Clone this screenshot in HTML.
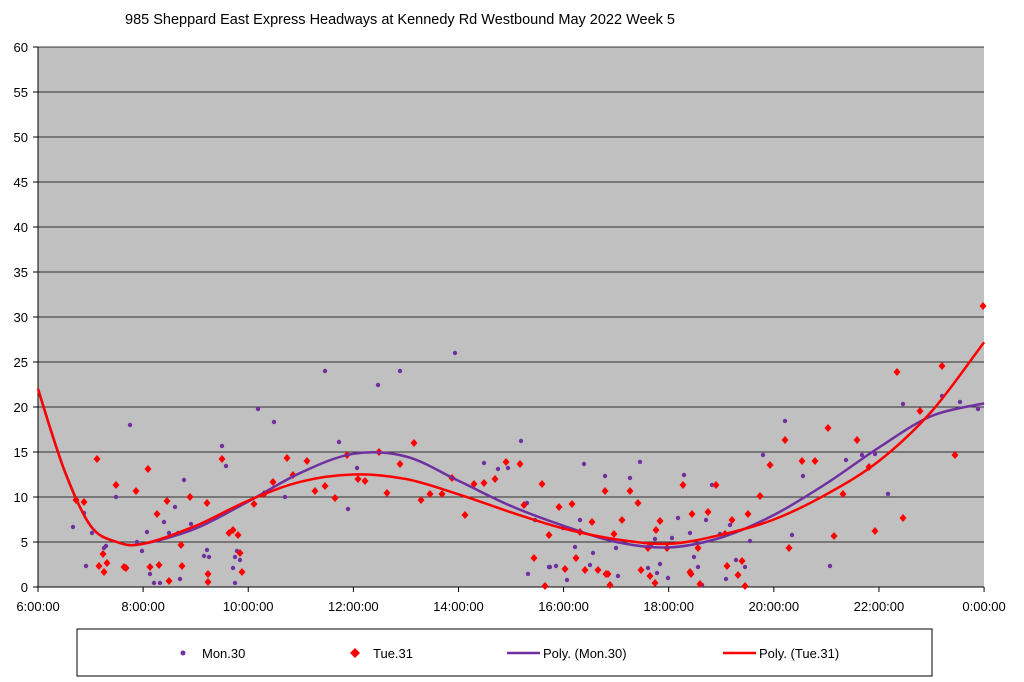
<!DOCTYPE html>
<html><head><meta charset="utf-8"><style>
body{margin:0;background:#fff;}
svg{display:block;font-family:"Liberation Sans",Arial,sans-serif;}
</style></head><body>
<svg id="s" width="1024" height="682" viewBox="0 0 1024 682">
<rect x="0" y="0" width="1024" height="682" fill="#fff"/>
<text x="125" y="24" font-size="14.5" fill="#000">985 Sheppard East Express Headways at Kennedy Rd Westbound May 2022  Week 5</text>
<rect x="38" y="47" width="946" height="540" fill="#c0c0c0"/>
<g id="grid"></g>
<g id="pts"></g>
<g id="curves"></g>
<rect x="77" y="629" width="855" height="47" fill="#fff" stroke="#000" stroke-width="1"/>
<circle cx="183" cy="653" r="2.5" fill="#7030a0"/>
<text x="202" y="658" font-size="13">Mon.30</text>
<path d="M355 648 L360 653 L355 658 L350 653Z" fill="#ff0000"/>
<text x="373" y="658" font-size="13">Tue.31</text>
<line x1="507" y1="653" x2="540" y2="653" stroke="#7030a0" stroke-width="2.5"/>
<text x="543" y="658" font-size="13">Poly. (Mon.30)</text>
<line x1="723" y1="653" x2="756" y2="653" stroke="#ff0000" stroke-width="2.5"/>
<text x="759" y="658" font-size="13">Poly. (Tue.31)</text>
</svg>
<script>
var NS="http://www.w3.org/2000/svg";
function el(p,t,a){var e=document.createElementNS(NS,t);for(var k in a)e.setAttribute(k,a[k]);document.getElementById(p).appendChild(e);return e;}
var X0=38,PH=52.56,Y0=587,PU=9;
for(var v=0;v<=60;v+=5){var y=Y0-v*PU;
 if(v>0)el("grid","line",{x1:38,x2:984,y1:y,y2:y,stroke:"#000","stroke-width":0.8});
 el("grid","line",{x1:33,x2:38,y1:y,y2:y,stroke:"#000"});
 var t=el("grid","text",{x:28,y:y+5,"font-size":13,"text-anchor":"end"});t.textContent=v;}
el("grid","line",{x1:38,x2:38,y1:47,y2:587,stroke:"#000"});
el("grid","line",{x1:38,x2:984,y1:587,y2:587,stroke:"#000"});
var labs=["6:00:00","8:00:00","10:00:00","12:00:00","14:00:00","16:00:00","18:00:00","20:00:00","22:00:00","0:00:00"];
for(var i=0;i<10;i++){var x=X0+i*2*PH;
 el("grid","line",{x1:x,x2:x,y1:587,y2:592,stroke:"#000"});
 var t=el("grid","text",{x:x,y:611,"font-size":13,"text-anchor":"middle"});t.textContent=labs[i];}
var P=[73,527,84,513,86,566,92,533,104,548,106,546,116,497,130,425,137,542,142,551,147,532,150,574,154,583,160,583,164,522,169,533,175,507,178,533,180,579,184,480,191,524,204,556,207,550,209,557,222,446,226,466,235,557,235,583,233,568,237,551,240,560,258,409,274,422,285,497,325,371,339,442,348,509,357,468,378,385,400,371,455,353,484,463,498,469,508,468,521,441,527,503,528,574,535,520,549,567,550,567,556,566,563,528,567,580,575,547,580,520,584,464,590,565,593,553,605,476,612,540,616,548,618,576,630,478,640,462,648,568,651,545,655,539,657,573,660,564,668,578,672,538,678,518,684,475,690,533,694,557,698,567,702,585,706,520,712,485,720,534,726,579,730,525,736,560,745,567,750,541,763,455,785,421,792,535,803,476,830,566,846,460,862,455,875,454,888,494,903,404,942,396,960,402,978,409];
for(var i=0;i<P.length;i+=2)el("pts","circle",{cx:P[i],cy:P[i+1],r:2.2,fill:"#7030a0"});
var R=[76,500,84,502,97,459,99,566,103,554,104,572,107,563,116,485,124,567,126,568,136,491,148,469,150,567,157,514,159,565,167,501,169,581,181,545,182,566,190,497,208,574,208,582,207,503,222,459,229,533,233,530,238,535,240,553,242,572,254,504,264,494,273,482,287,458,293,475,307,461,315,491,325,486,335,498,347,455,358,479,365,481,379,452,387,493,400,464,414,443,421,500,430,494,442,494,452,478,465,515,474,484,484,483,495,479,506,462,520,464,524,505,534,558,542,484,545,586,549,535,559,507,565,569,572,504,576,558,580,532,585,570,592,522,598,570,605,491,606,574,608,574,610,585,614,534,622,520,630,491,638,503,641,570,648,548,650,576,655,583,656,530,660,521,667,548,683,485,690,572,691,574,692,514,698,548,700,584,708,512,716,485,725,534,727,566,732,520,738,575,742,561,745,586,748,514,760,496,770,465,785,440,789,548,802,461,815,461,828,428,834,536,843,494,857,440,869,467,875,531,897,372,903,518,920,411,942,366,955,455,983,306];
for(var i=0;i<R.length;i+=2){var x=R[i],y=R[i+1];el("pts","path",{d:"M"+x+" "+(y-4)+"L"+(x+3.5)+" "+y+"L"+x+" "+(y+4)+"L"+(x-3.5)+" "+y+"Z",fill:"#ff0000"});}
function curve(h,v,col){var pts=h.map(function(t,i){return[X0+(t-6)*PH,Y0-v[i]*PU];});
 var d="M"+pts[0][0]+" "+pts[0][1];
 for(var i=0;i<pts.length-1;i++){var p0=pts[Math.max(0,i-1)],p1=pts[i],p2=pts[i+1],p3=pts[Math.min(pts.length-1,i+2)];
  d+="C"+(p1[0]+(p2[0]-p0[0])/6)+" "+(p1[1]+(p2[1]-p0[1])/6)+" "+(p2[0]-(p3[0]-p1[0])/6)+" "+(p2[1]-(p3[1]-p1[1])/6)+" "+p2[0]+" "+p2[1];}
 el("curves","path",{d:d,fill:"none",stroke:col,"stroke-width":2.5});}
var H=[6,6.5,7,7.5,8,9,10,11,12,13,14,15,16,17,18,19,20,21,22,23,24];
curve(H,[22,13,6.8,5.0,4.8,6.5,9.5,12.7,14.8,14.5,11.8,9,6.8,5.0,4.4,5.5,8,11.5,15.5,19,20.4],"#7030a0");
curve(H,[22,13,6.8,5.0,4.8,6.8,9.6,11.7,12.5,12.0,10.3,8.3,6.5,5.3,4.8,5.8,7.5,10.3,14,19.5,27.2],"#ff0000");
</script>
</body></html>
